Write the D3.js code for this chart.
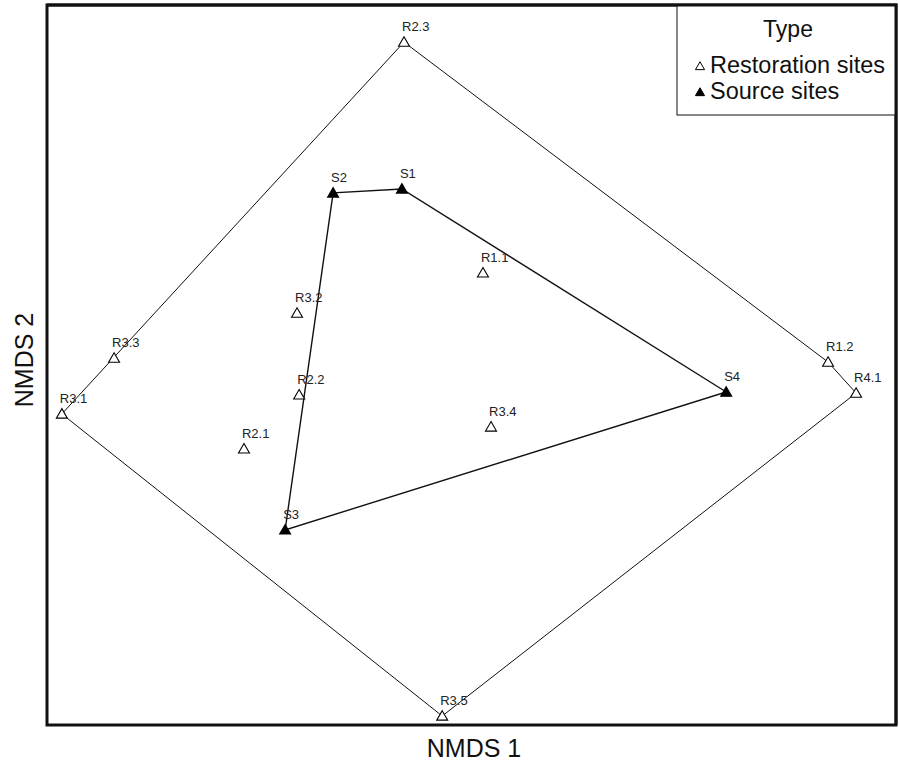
<!DOCTYPE html>
<html>
<head>
<meta charset="utf-8">
<script src="https://cdn.jsdelivr.net/npm/d3@7"></script>
<style>
  body { margin: 0; background: #fff; }
  text { font-family: Arial, "Liberation Sans", sans-serif; }
</style>
</head>
<body>
<script>
// NMDS scores
const sites = ["R1.1", "R1.2", "R2.1", "R2.2", "R2.3", "R3.1", "R3.2", "R3.3", "R3.4", "R3.5", "R4.1", "S1", "S2", "S3", "S4"];
const nmds1 = [0.027, 0.840, -0.536, -0.406, -0.159, -0.965, -0.411, -0.842, 0.046, -0.069, 0.906, -0.164, -0.326, -0.439, 0.600];
const nmds2 = [0.256, 0.008, -0.233, -0.083, 0.897, -0.136, 0.144, 0.019, -0.172, -0.975, -0.078, 0.489, 0.478, -0.458, -0.075];
const types = ["R", "R", "R", "R", "R", "R", "R", "R", "R", "R", "R", "S", "S", "S", "S"];
const legendLabels = ["Restoration sites", "Source sites"];

const width = 899, height = 764;
const plot = { left: 47, right: 896, top: 5, bottom: 725 };

const x = d3.scaleLinear().domain([-1, 1]).range([plot.left, plot.right]);
const y = d3.scaleLinear().domain([-1, 1]).range([plot.bottom, plot.top]);

const points = sites.map((s, i) => ({ id: s, x: nmds1[i], y: nmds2[i], type: types[i] }));

const svg = d3.select("body").append("svg")
  .attr("width", width)
  .attr("height", height);

// hulls around each group
const hullLine = d3.line().curve(d3.curveLinearClosed);
["R", "S"].forEach(t => {
  const hull = d3.polygonHull(points.filter(d => d.type === t).map(d => [x(d.x), y(d.y)]));
  svg.append("path")
    .attr("d", hullLine(hull))
    .attr("fill", "none")
    .attr("stroke", "#111")
    .attr("stroke-width", t === "S" ? 1.4 : 1);
});

const tri = d3.symbol().type(d3.symbolTriangle).size(52);

svg.selectAll("path.pt")
  .data(points)
  .enter()
  .append("path")
  .attr("class", "pt")
  .attr("d", tri)
  .attr("transform", d => `translate(${x(d.x)},${y(d.y) + 1})`)
  .attr("fill", d => d.type === "S" ? "#000" : "#fff")
  .attr("stroke", "#000")
  .attr("stroke-width", 1.1);

svg.selectAll("text.lab")
  .data(points)
  .enter()
  .append("text")
  .attr("class", "lab")
  .attr("x", d => x(d.x) - 2)
  .attr("y", d => y(d.y) - 11)
  .attr("font-size", "13px")
  .attr("fill", "#222")
  .text(d => d.id);

// frame
svg.append("rect")
  .attr("x", plot.left)
  .attr("y", plot.top)
  .attr("width", plot.right - plot.left)
  .attr("height", plot.bottom - plot.top)
  .attr("fill", "none")
  .attr("stroke", "#111")
  .attr("stroke-width", 3);

// axis titles
svg.append("text")
  .attr("x", 474)
  .attr("y", 757)
  .attr("text-anchor", "middle")
  .attr("font-size", "25px")
  .attr("fill", "#111")
  .text("NMDS 1");

svg.append("text")
  .attr("transform", `translate(33,360) rotate(-90)`)
  .attr("text-anchor", "middle")
  .attr("font-size", "25px")
  .attr("fill", "#111")
  .text("NMDS 2");

// legend
const lg = svg.append("g");
lg.append("rect")
  .attr("x", 677)
  .attr("y", plot.top)
  .attr("width", plot.right - 677)
  .attr("height", 115 - plot.top)
  .attr("fill", "#fff")
  .attr("stroke", "#111")
  .attr("stroke-width", 1);
lg.append("text")
  .attr("x", 788)
  .attr("y", 37)
  .attr("text-anchor", "middle")
  .attr("font-size", "23px")
  .attr("fill", "#111")
  .text("Type");
legendLabels.forEach((l, i) => {
  const ly = 73 + i * 26;
  lg.append("path")
    .attr("d", d3.symbol().type(d3.symbolTriangle).size(36)())
    .attr("transform", `translate(700,${ly - 6})`)
    .attr("fill", i === 1 ? "#000" : "#fff")
    .attr("stroke", "#000")
    .attr("stroke-width", 1);
  lg.append("text")
    .attr("x", 710)
    .attr("y", ly)
    .attr("font-size", "23.5px")
    .attr("fill", "#111")
    .text(l);
});
// redraw right/top frame edges over legend box
svg.append("path")
  .attr("d", `M${plot.left},${plot.top}H${plot.right}V${plot.bottom}`)
  .attr("fill", "none")
  .attr("stroke", "#111")
  .attr("stroke-width", 3);
</script>
</body>
</html>
